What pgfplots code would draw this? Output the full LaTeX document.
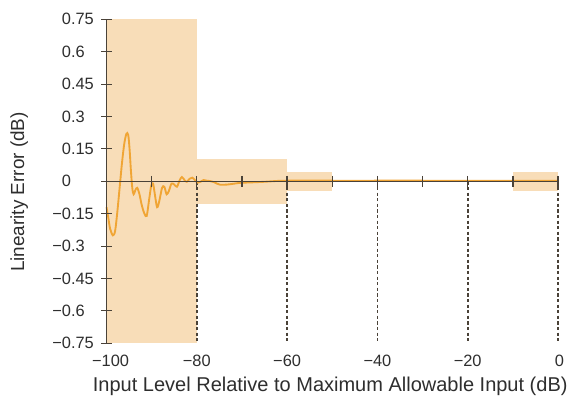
\documentclass[border=0pt]{standalone}
\usepackage{fontspec}
\setmainfont{Liberation Sans}
\usepackage{pgfplots}
\pgfplotsset{compat=1.18}
\definecolor{band}{HTML}{F8DDB8}
\definecolor{curve}{HTML}{F0A535}
\definecolor{axc}{HTML}{4A4238}
\definecolor{txt}{HTML}{2E2E2E}
\begin{document}
\begin{tikzpicture}
\begin{axis}[
  scale only axis,
  width=338.6pt, height=243pt,
  xmin=-100, xmax=0, ymin=-0.75, ymax=0.75,
  axis x line=none,
  axis y line*=left,
  axis on top=true,
  y axis line style={axc, line width=0.8pt},
  ytick={-0.75,-0.6,-0.45,-0.3,-0.15,0,0.15,0.3,0.45,0.6,0.75},
  yticklabels={\llap{−}0.75,\llap{−}0.6,\llap{−}0.45,\llap{−}0.3,\llap{−}0.15,0,0.15,0.3,0.45,0.6,0.75},
  yticklabel style={anchor=west, xshift=-33pt, font=\fontsize{12.3}{14}\selectfont, text=txt},
  ytick style={axc, line width=0.8pt},
  tick align=center,
  major tick length=8pt,
  /pgf/number format/assume math mode=true,
  clip=false,
]
\coordinate (ll) at (rel axis cs:0,0);
\coordinate (ur) at (rel axis cs:1,1);
% shaded tolerance bands
\addplot[fill=band, draw=none] coordinates {(-100,-0.75) (-100,0.75) (-80,0.75) (-80,-0.75)} -- cycle;
\addplot[fill=band, draw=none] coordinates {(-80,-0.105) (-80,0.105) (-60,0.105) (-60,-0.105)} -- cycle;
\addplot[fill=band, draw=none] coordinates {(-60,-0.045) (-60,0.045) (-50,0.045) (-50,-0.045)} -- cycle;
\addplot[fill=band, draw=none] coordinates {(-10,-0.045) (-10,0.045) (0,0.045) (0,-0.045)} -- cycle;
% dashed verticals
\addplot[axc, dash pattern=on 2.4pt off 1.8pt, line width=1.2pt] coordinates {(-80,0) (-80,-0.75)};
\addplot[axc, dash pattern=on 2.4pt off 1.8pt, line width=1.2pt] coordinates {(-60,0) (-60,-0.75)};
\addplot[axc, dash pattern=on 2.4pt off 1.8pt, line width=1.2pt] coordinates {(-40,0) (-40,-0.75)};
\addplot[axc, dash pattern=on 2.4pt off 1.8pt, line width=1.2pt] coordinates {(-20,0) (-20,-0.75)};
\addplot[axc, dash pattern=on 2.4pt off 1.8pt, line width=1.2pt] coordinates {(0,0) (0,-0.75)};
% error curve
\addplot[curve, line width=1.4pt, smooth, tension=0.5] coordinates {
(-100,-0.12) (-99.6,-0.17) (-99.2,-0.22) (-98.6,-0.25) (-98.1,-0.23) (-97.6,-0.14)
(-97.1,-0.03) (-96.6,0.08) (-96.1,0.17) (-95.6,0.22) (-95.2,0.215) (-94.9,0.15)
(-94.6,0.05) (-94.3,-0.03) (-94.0,-0.06) (-93.6,-0.04) (-93.2,-0.03) (-92.7,-0.06)
(-92.2,-0.11) (-91.6,-0.15) (-91.1,-0.16) (-90.6,-0.09) (-90.1,-0.02) (-89.7,-0.01)
(-89.3,-0.06) (-88.8,-0.12) (-88.3,-0.09) (-87.7,-0.03) (-87.2,-0.025) (-86.7,-0.06)
(-86.2,-0.045) (-85.6,-0.01) (-85.0,-0.015) (-84.4,-0.025) (-83.8,0.005) (-83.3,0.02)
(-82.7,0.005) (-82.2,-0.002) (-81.6,0.012) (-81.0,0.017) (-80.4,0.005) (-79.8,-0.006)
(-79.2,-0.002) (-78.5,0.006) (-77.8,0.003) (-77,0.001) (-76.3,-0.003) (-75.6,-0.01)
(-74.8,-0.016) (-73.3,-0.015) (-71.8,-0.011) (-70.4,-0.007) (-68,-0.005) (-65,-0.002)
(-62,0.002) (-60,0.003) (-55,0.004) (-50,0.003) (-40,0.003) (-30,0.003) (-20,0.002) (-10,0.002) (0,0.002)
};
% zero line with ticks
\addplot[axc, line width=0.8pt] coordinates {(-100,0) (0,0)};
\addplot[axc, only marks, mark=|, mark size=4pt, mark options={line width=1pt}] coordinates {
(-90,0) (-80,0) (-70,0) (-60,0) (-50,0) (-40,0) (-30,0) (-20,0) (-10,0) (0,0)};
% bottom-left corner stub
\addplot[axc, line width=0.8pt] coordinates {(-100,-0.75) (-99,-0.75)};
% x tick labels
\node[font=\fontsize{12.3}{14}\selectfont, text=txt, anchor=north] at ([xshift=3pt,yshift=-5pt]axis cs:-100,-0.75) {−100};
\pgfplotsinvokeforeach{-80,-60,-40,-20}{
  \node[font=\fontsize{12.3}{14}\selectfont, text=txt, anchor=north] at ([yshift=-5pt]axis cs:#1,-0.75) {−\the\numexpr-#1\relax};
}
\node[font=\fontsize{12.3}{14}\selectfont, text=txt, anchor=north] at ([xshift=1pt,yshift=-5pt]axis cs:0,-0.75) {0};
\node[font=\fontsize{15}{17}\selectfont, text=txt, anchor=base] at ([xshift=-1.5pt,yshift=-36pt]rel axis cs:0.5,0) {Input Level Relative to Maximum Allowable Input (dB)};
\node[font=\fontsize{14.2}{16}\selectfont, text=txt, rotate=90, anchor=center] at ([xshift=-65.5pt]rel axis cs:0,0.467) {Linearity Error (dB)};
\end{axis}
\pgfresetboundingbox
\path ([xshift=-79.9pt,yshift=-42.5pt]ll) rectangle ([xshift=7.5pt,yshift=14.5pt]ur);
\end{tikzpicture}
\end{document}
